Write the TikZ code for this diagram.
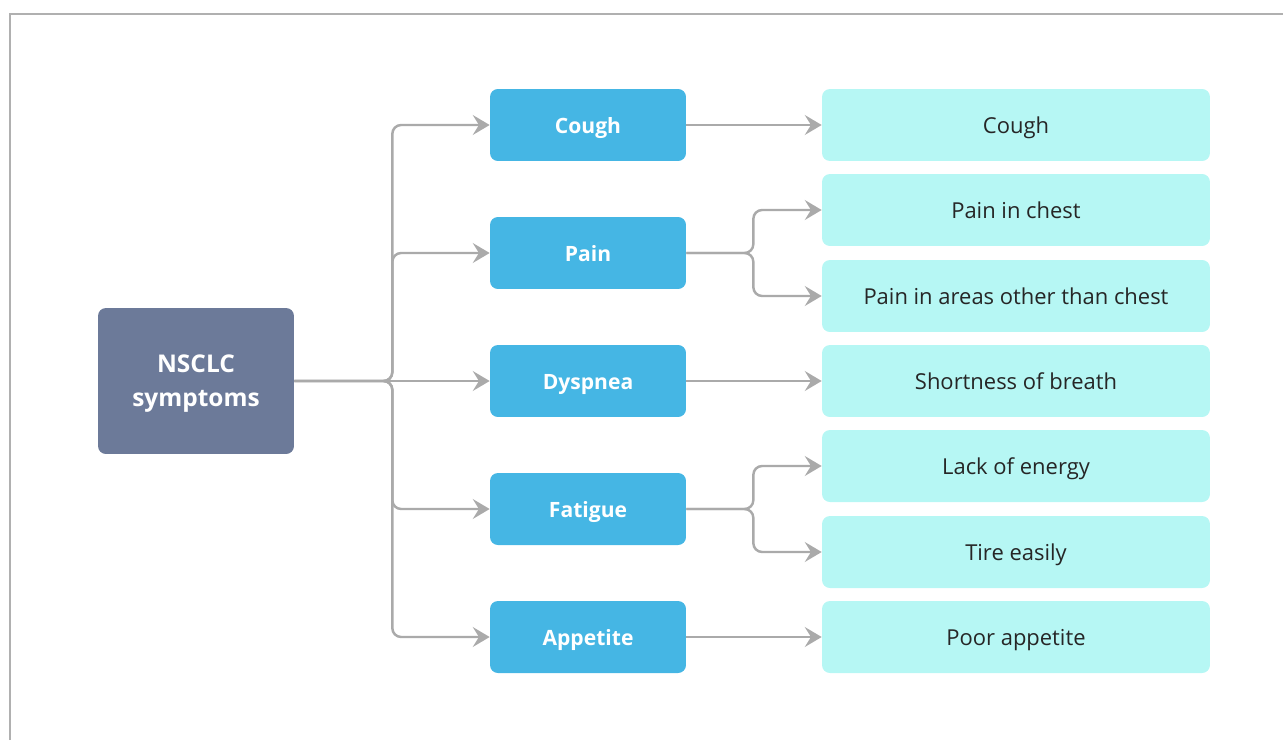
\documentclass[tikz,border=0pt]{standalone}
\usepackage{fontspec}
\setmainfont{Open Sans}
\usetikzlibrary{arrows.meta}

\begin{document}
\begin{tikzpicture}[x=0.02cm, y=-0.02cm, >={Stealth[length=9.6pt, width=11.3pt, inset=3.5pt]}]

      % Colors: slate root, blue categories, pale cyan details
      \definecolor{rootfill}{RGB}{108,122,153}
      \definecolor{catfill}{RGB}{69,182,228}
      \definecolor{itemfill}{RGB}{182,247,244}
      \definecolor{linkgray}{RGB}{170,170,170}
      \definecolor{framegray}{RGB}{176,176,176}

      \tikzset{
        rootbox/.style={fill=rootfill, rounded corners=4.5pt, inner sep=0pt,
          minimum width=3.92cm, minimum height=2.92cm, align=center, text=white,
          text depth=0pt, font=\fontsize{13.9}{19.3}\selectfont\bfseries},
        catbox/.style={fill=catfill, rounded corners=4.5pt, inner sep=0pt,
          minimum width=3.92cm, minimum height=1.44cm, text=white,
          text height=9.8pt, text depth=0pt,
          font=\fontsize{12}{14}\selectfont\bfseries},
        itembox/.style={fill=itemfill, rounded corners=4.5pt, inner sep=0pt,
          minimum width=7.76cm, minimum height=1.44cm, text=black!85,
          text height=10.1pt, text depth=0pt,
          font=\fontsize{12.5}{15}\selectfont},
        link/.style={draw=linkgray, line width=1.4pt, rounded corners=5pt, ->}
      }

      % page size and frame
      \useasboundingbox (0,0) rectangle (1283,740);
      \draw[framegray, line width=1pt] (10,740) -- (10,14) -- (1283,14);

      % --- root ---
      \node[rootbox] (root) at (196,381) {NSCLC\\symptoms};

      % --- categories ---
      \node[catbox] (cough)    at (588,125) {Cough};
      \node[catbox] (pain)     at (588,253) {Pain};
      \node[catbox] (dyspnea)  at (588,381) {Dyspnea};
      \node[catbox] (fatigue)  at (588,509) {Fatigue};
      \node[catbox] (appetite) at (588,637) {Appetite};

      % --- details ---
      \node[itembox] (coughitem)  at (1016,125) {Cough};
      \node[itembox] (chest)      at (1016,210) {Pain in chest};
      \node[itembox] (otherpain)  at (1016,296) {Pain in areas other than chest};
      \node[itembox] (breath)     at (1016,381) {Shortness of breath};
      \node[itembox] (energy)     at (1016,466) {Lack of energy};
      \node[itembox] (tire)       at (1016,552) {Tire easily};
      \node[itembox] (poor)       at (1016,637) {Poor appetite};

      % root to categories
      \draw[link] (root.east) -- ++(98,0) |- (cough.west);
      \draw[link] (root.east) -- ++(98,0) |- (pain.west);
      \draw[link] (root.east) -- (dyspnea.west);
      \draw[link] (root.east) -- ++(98,0) |- (fatigue.west);
      \draw[link] (root.east) -- ++(98,0) |- (appetite.west);

      % categories to details
      \draw[link] (cough.east) -- (coughitem.west);
      \draw[link] (pain.east) -- ++(67,0) |- (chest.west);
      \draw[link] (pain.east) -- ++(67,0) |- (otherpain.west);
      \draw[link] (dyspnea.east) -- (breath.west);
      \draw[link] (fatigue.east) -- ++(67,0) |- (energy.west);
      \draw[link] (fatigue.east) -- ++(67,0) |- (tire.west);
      \draw[link] (appetite.east) -- (poor.west);

    \end{tikzpicture}
\end{document}
